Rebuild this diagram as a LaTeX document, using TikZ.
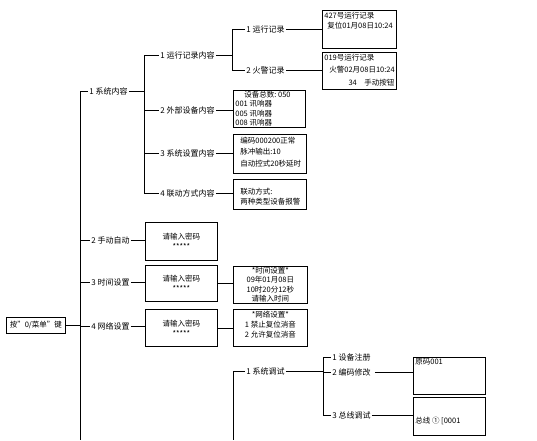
\documentclass[tikz,border=0pt]{standalone}
\usepackage{fontspec}
\setmainfont{Noto Sans CJK SC}
\usetikzlibrary{positioning,calc}
\tikzset{every picture/.style={line width=0.75pt}}
\newcommand{\cellbox}[4][t]{\parbox[c][#3][#1]{#2}{#4}}

\begin{document}
\begin{tikzpicture}[x=1pt,y=-1pt,
    font=\fontsize{7.5}{10}\selectfont,
    lbl/.style={inner sep=1pt, anchor=west, font=\fontsize{8}{10}\selectfont},
    infobox/.style={draw, inner xsep=2pt, inner ysep=1.5pt, anchor=north west}]
    \useasboundingbox (0,0) rectangle (537,440);

    % 菜单入口
    \node[draw, anchor=west, inner xsep=1pt, minimum height=16pt, minimum width=59pt] (root) at (6,325) {按"0/菜单"键};
    \coordinate (t0) at (80,91);
    \coordinate (t0e) at (80,440);
    \draw (t0) -- (t0e);
    \draw (root.east) -- (root.east -| t0);

    % 第一级菜单
    \node[lbl] (sys) at (88,91) {1 系统内容};
    \node[lbl] (man) at (90,240) {2 手动自动};
    \node[lbl] (tim) at (90,282) {3 时间设置};
    \node[lbl] (net) at (90,326) {4 网络设置};
    \foreach \n in {sys,man,tim,net}
        \draw (\n.west -| t0) -- (\n.west);

    % 系统内容
    \coordinate (t1) at (144,55);
    \coordinate (t1e) at (144,193);
    \draw (t1) -- (t1e);
    \draw (sys.east) -- (sys.east -| t1);
    \node[lbl] (runc) at (159,55) {1 运行记录内容};
    \node[lbl] (extc) at (159,110) {2 外部设备内容};
    \node[lbl] (setc) at (159,153) {3 系统设置内容};
    \node[lbl] (linkc) at (159,193) {4 联动方式内容};
    \foreach \n in {runc,extc,setc,linkc}
        \draw (\n.west -| t1) -- (\n.west);

    % 运行记录
    \coordinate (t2) at (232,29);
    \coordinate (t2e) at (232,70);
    \draw (t2) -- (t2e);
    \draw (runc.east) -- (runc.east -| t2);
    \node[lbl] (runr) at (245,29) {1 运行记录};
    \node[lbl] (firer) at (245,70) {2 火警记录};
    \foreach \n in {runr,firer}
        \draw (\n.west -| t2) -- (\n.west);

    \node[infobox] (runbox) at (322,10) {\cellbox{70pt}{35pt}{427号运行记录\\\hspace*{3pt}复位01月08日10:24}};
    \node[infobox] (firebox) at (322,52) {\cellbox{70pt}{34pt}{019号运行记录\\[2.5pt]\hspace*{5pt}火警02月08日10:24\\[2.5pt]\mbox{}\hfill 34\quad 手动按钮}};
    \node[infobox] (extbox) at (233,90) {\cellbox[c]{68pt}{34pt}{\fontsize{7.5}{9.5}\selectfont\hspace*{9pt}设备总数:\ 050\\001 讯响器\\005 讯响器\\008 讯响器}};
    \node[infobox] (setbox) at (233,134) {\cellbox{69pt}{36pt}{\vspace*{1pt}\hspace*{5pt}编码000200正常\\[1.5pt]\hspace*{5pt}脉冲输出:10\\[1.5pt]\hspace*{5pt}自动控式20秒延时}};
    \node[infobox] (linkbox) at (233,179) {\cellbox{69pt}{27pt}{\vspace*{7pt}\hspace*{5pt}联动方式:\\\hspace*{5pt}两种类型设备报警}};

    \draw (runr.east) -- (runr.east -| runbox.west);
    \draw (firer.east) -- (firer.east -| firebox.west);
    \draw (extc.east) -- (extc.east -| extbox.west);
    \draw (setc.east) -- (setc.east -| setbox.west);
    \draw (linkc.east) -- (linkc.east -| linkbox.west);

    % 密码输入
    \node[infobox] (pw1) at (145,222) {\cellbox[c]{68pt}{35pt}{\centering 请输入密码\\******}};
    \node[infobox] (pw2) at (145,265) {\cellbox[c]{68pt}{33pt}{\centering 请输入密码\\******}};
    \node[infobox] (pw3) at (145,309) {\cellbox[c]{68pt}{34pt}{\centering 请输入密码\\******}};
    \draw (man.east) -- (man.east -| pw1.west);
    \draw (tim.east) -- (tim.east -| pw2.west);
    \draw (net.east) -- (net.east -| pw3.west);

    \node[infobox] (timebox) at (233,266) {\cellbox[c]{70pt}{34pt}{\fontsize{7.5}{9.5}\selectfont\centering *时间设置*\\09年01月08日\\10时20分12秒\\请输入时间}};
    \node[infobox] (netbox) at (233,309) {\cellbox{70pt}{34pt}{\centering *网络设置*\\1 禁止复位消音\\2 允许复位消音}};
    \draw (pw2.east) -- (pw2.east -| timebox.west);
    \draw (pw3.east) -- (pw3.east -| netbox.west);

    % 系统调试
    \coordinate (t3) at (233,371);
    \coordinate (t3e) at (233,440);
    \draw (t3) -- (t3e);
    \node[lbl] (dbg) at (245,371) {1 系统调试};
    \draw (dbg.west -| t3) -- (dbg.west);
    \coordinate (t4) at (323,357);
    \coordinate (t4e) at (323,415);
    \draw (t4) -- (t4e);
    \draw (dbg.east) -- (dbg.east -| t4);
    \node[lbl] (reg) at (331,357) {1 设备注册};
    \node[lbl] (code) at (331,372) {2 编码修改};
    \node[lbl] (bus) at (331,415) {3 总线调试};
    \foreach \n in {reg,code,bus}
        \draw (\n.west -| t4) -- (\n.west);

    \node[infobox] (codebox) at (413,357) {\cellbox{68pt}{34pt}{原码001}};
    \node[infobox] (busbox) at (413,397) {\cellbox{68pt}{35pt}{\vspace*{18pt}总线 ① [0001}};
    \draw[shorten <=3pt] (code.east) -- (code.east -| codebox.west);
    \draw (bus.east) -- (bus.east -| busbox.west);
\end{tikzpicture}
\end{document}
